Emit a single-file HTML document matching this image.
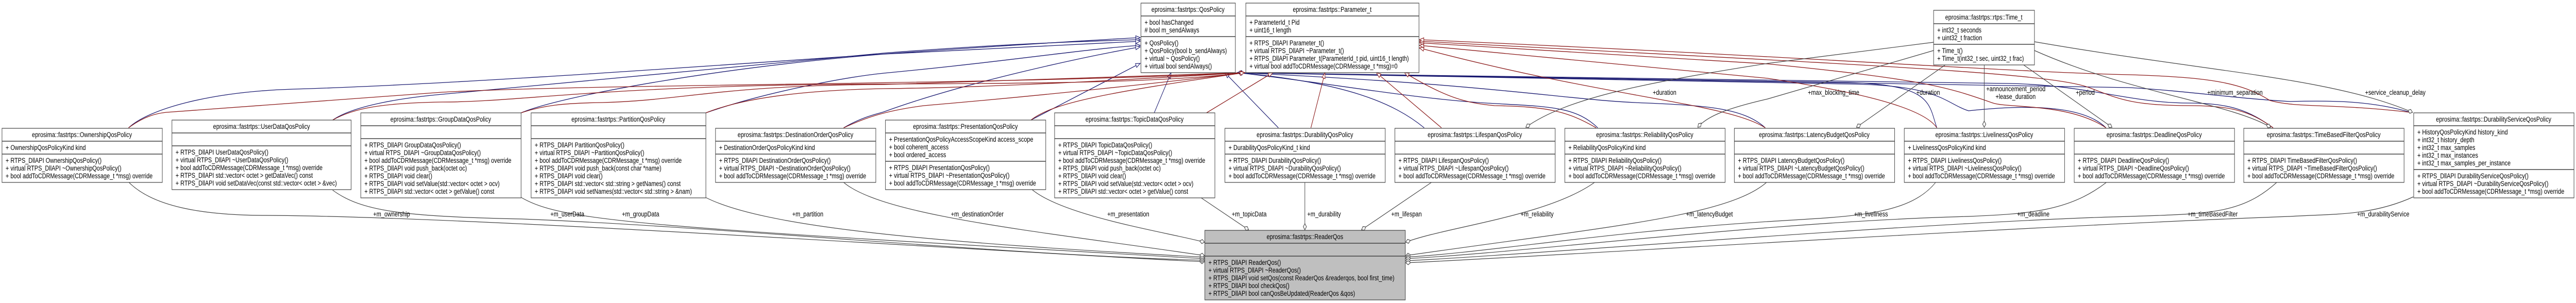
<!DOCTYPE html>
<html><head><meta charset="utf-8"><style>
html,body{margin:0;padding:0;background:#fff;overflow:hidden;width:100vw;height:100vh;}
svg{display:block;width:100vw;height:100vh;}
text{font-family:"Liberation Sans",sans-serif;font-size:14px;fill:#000;}
.t{text-anchor:middle;}
.b{fill:#fff;stroke:#404040;stroke-width:1.2;}
.g{fill:#bfbfbf;stroke:#404040;stroke-width:1.2;}
.s{stroke:#404040;stroke-width:1.6;}
.bl{fill:none;stroke:#191970;stroke-width:1.3;marker-end:url(#tb);}
.rd{fill:none;stroke:#8b1a1a;stroke-width:1.3;marker-end:url(#tr);}
.gy{fill:none;stroke:#404040;stroke-width:1.2;marker-end:url(#dm);}
</style></head><body>
<svg viewBox="0 0 6412 588" preserveAspectRatio="none" xmlns="http://www.w3.org/2000/svg">
<defs>
<marker id="tb" markerUnits="userSpaceOnUse" markerWidth="14" markerHeight="10" refX="11" refY="4" orient="auto" overflow="visible"><path d="M0,0 L11,4 L0,8 Z" fill="#fff" stroke="#191970" stroke-width="1.2"/></marker>
<marker id="tr" markerUnits="userSpaceOnUse" markerWidth="14" markerHeight="10" refX="11" refY="4" orient="auto" overflow="visible"><path d="M0,0 L11,4 L0,8 Z" fill="#fff" stroke="#8b1a1a" stroke-width="1.2"/></marker>
<marker id="dm" markerUnits="userSpaceOnUse" markerWidth="14" markerHeight="10" refX="12" refY="4" orient="auto" overflow="visible"><path d="M0,4 L6,0 L12,4 L6,8 Z" fill="#fff" stroke="#404040" stroke-width="1.2"/></marker>
</defs>

<path class="bl" d="M320,248 C370,212 520,178 730,173 C1300,160 2300,95 2838,73"/>
<path class="bl" d="M828,233 C880,205 1000,190 1100,183 L2200,103 C2500,85 2700,80 2838,77"/>
<path class="bl" d="M1297,219 C1400,185 1800,130 2200,105 L2838,80"/>
<path class="bl" d="M1757,219 C1900,180 2100,150 2200,142 C2500,120 2700,95 2838,88"/>
<path class="bl" d="M2100,248 C2150,225 2190,220 2200,217 C2400,160 2700,110 2838,91"/>
<path class="bl" d="M2566,233 L2838,123"/>
<path class="bl" d="M2873,219 L2915,141"/>
<path class="bl" d="M3182,248 L3049,141"/>
<path class="bl" d="M3545,248 C3470,200 3350,160 3080,141"/>
<path class="bl" d="M3977,248 C3920,205 3850,207 3700,200 C3500,190 3300,160 3080,141"/>
<path class="bl" d="M4394,248 C4340,210 4250,205 4100,200 C3900,195 3750,165 3080,141"/>
<path class="bl" d="M4821,248 C4800,200 4810,165 4600,160 L3080,141"/>
<path class="bl" d="M5242,248 C5180,200 5020,205 4900,215 C4840,200 4830,165 4600,163 L3080,141"/>
<path class="bl" d="M5658,248 C5600,215 5550,200 5450,200 C5300,200 5200,165 5000,162 L3080,141"/>
<path class="bl" d="M6000,218 C5900,195 5800,195 5700,197 C5550,190 5450,177 5300,170 L3080,141"/>

<path class="rd" d="M320,248 C360,225 390,220 414,218 L1100,179 C1500,162 2500,165 3098,141"/>
<path class="rd" d="M828,233 C880,210 950,200 1100,198 C1300,198 1500,165 2200,163 C2600,162 2900,160 3098,141"/>
<path class="rd" d="M1297,219 C1350,205 1400,200 1500,199 C1700,195 1800,165 2200,164 L3098,141"/>
<path class="rd" d="M1757,219 C1850,190 2000,175 2200,172 C2500,170 2900,150 3098,141"/>
<path class="rd" d="M2100,248 C2150,230 2200,215 2300,205 C2600,185 2900,160 3098,141"/>
<path class="rd" d="M2566,233 C2620,200 2750,180 3098,141"/>
<path class="rd" d="M3003,219 L3168,141"/>
<path class="rd" d="M3263,248 L3298,141"/>
<path class="rd" d="M3588,248 L3426,141"/>
<path class="rd" d="M3973,248 C3900,215 3850,207 3720,205 C3650,200 3600,190 3496,141"/>
<path class="rd" d="M4394,248 C4300,200 4000,190 3533,93"/>
<path class="rd" d="M4821,248 C4780,200 4550,170 4400,152 L3533,88"/>
<path class="rd" d="M5242,248 C5150,200 5000,210 4961,200 C4850,170 4800,155 4400,124 L3533,83"/>
<path class="rd" d="M5658,248 C5600,215 5550,205 5450,205 C5300,205 5270,190 5200,170 C5100,140 4600,125 3533,80"/>
<path class="rd" d="M6000,218 C5800,200 5720,210 5650,195 C5580,160 5500,150 5300,145 C5000,140 4500,110 3533,77"/>

<path class="gy" d="M4813,82 L4400,123 C4100,160 3900,190 3798,247"/>
<path class="gy" d="M4813,98 L4400,192 C4300,210 4250,225 4226,247"/>
<path class="gy" d="M4842,126 L4621,247"/>
<path class="gy" d="M4939,126 L4939,247"/>
<path class="gy" d="M5037,126 L5257,247"/>
<path class="gy" d="M5064,98 C5300,180 5550,200 5652,247"/>
<path class="gy" d="M5064,81 C5500,140 5800,150 6005,218"/>

<path class="gy" d="M321,354 C380,400 500,418 663,418 C1200,420 2500,490 2998,508"/>
<path class="gy" d="M828,369 C900,410 1000,420 1300,425 C1800,440 2500,495 2998,505"/>
<path class="gy" d="M1297,383 C1400,430 1600,440 2998,502"/>
<path class="gy" d="M1756,383 C1900,440 2300,470 2998,499"/>
<path class="gy" d="M2100,354 C2200,420 2600,450 2998,496"/>
<path class="gy" d="M2569,368 C2650,420 2900,450 2998,470"/>
<path class="gy" d="M2988,383 L3108,446"/>
<path class="gy" d="M3248,354 L3248,446"/>
<path class="gy" d="M3563,354 L3389,446"/>
<path class="gy" d="M3969,354 C3850,420 3600,440 3499,470"/>
<path class="gy" d="M4397,354 C4300,420 4000,440 3499,496"/>
<path class="gy" d="M4818,354 C4750,420 4600,420 4400,430 C4000,450 3700,490 3499,499"/>
<path class="gy" d="M5243,354 C5150,410 5050,415 4900,420 C4400,430 3800,490 3499,502"/>
<path class="gy" d="M5667,354 C5580,415 5500,415 5300,420 C4800,430 3800,495 3499,506"/>
<path class="gy" d="M6007,382 C5900,420 5800,415 5700,420 C5000,440 3800,500 3499,510"/>

<text x="4114" y="184">+duration</text>
<text x="4500" y="184">+max_blocking_time</text>
<text x="4770" y="184">+duration</text>
<text x="4944" y="177">+announcement_period</text>
<text x="4967" y="192">+lease_duration</text>
<text x="5167" y="184">+period</text>
<text x="5494" y="184">+minimum_separation</text>
<text x="5887" y="184">+service_cleanup_delay</text>
<text x="929" y="420">+m_ownership</text>
<text x="1370" y="420">+m_userData</text>
<text x="1548" y="420">+m_groupData</text>
<text x="1972" y="420">+m_partition</text>
<text x="2367" y="420">+m_destinationOrder</text>
<text x="2756" y="420">+m_presentation</text>
<text x="3066" y="420">+m_topicData</text>
<text x="3254" y="420">+m_durability</text>
<text x="3463" y="420">+m_lifespan</text>
<text x="3785" y="420">+m_reliability</text>
<text x="4197" y="420">+m_latencyBudget</text>
<text x="4615" y="420">+m_liveliness</text>
<text x="5021" y="420">+m_deadline</text>
<text x="5445" y="420">+m_timeBasedFilter</text>
<text x="5867" y="420">+m_durabilityService</text>

<rect class="b" x="2840" y="6" width="235" height="135"/>
<line class="s" x1="2840" y1="31" x2="3075" y2="31"/><line class="s" x1="2840" y1="71" x2="3075" y2="71"/>
<text class="t" x="2957" y="23">eprosima::fastrtps::QosPolicy</text>
<text x="2849" y="48">+ bool hasChanged</text><text x="2849" y="63"># bool m_sendAlways</text>
<text x="2849" y="88">+ QosPolicy()</text><text x="2849" y="103">+ QosPolicy(bool b_sendAlways)</text><text x="2849" y="118">+ virtual ~ QosPolicy()</text><text x="2849" y="133">+ virtual bool sendAlways()</text>

<rect class="b" x="3101" y="6" width="431" height="135"/>
<line class="s" x1="3101" y1="31" x2="3532" y2="31"/><line class="s" x1="3101" y1="71" x2="3532" y2="71"/>
<text class="t" x="3316" y="23">eprosima::fastrtps::Parameter_t</text>
<text x="3110" y="48">+ ParameterId_t Pid</text><text x="3110" y="63">+ uint16_t length</text>
<text x="3110" y="88">+ RTPS_DllAPI Parameter_t()</text><text x="3110" y="103">+ virtual RTPS_DllAPI ~Parameter_t()</text><text x="3110" y="118">+ RTPS_DllAPI Parameter_t(ParameterId_t pid, uint16_t length)</text><text x="3110" y="133">+ virtual bool addToCDRMessage(CDRMessage_t *msg)=0</text>

<rect class="b" x="4813" y="20" width="251" height="106"/>
<line class="s" x1="4813" y1="46" x2="5064" y2="46"/><line class="s" x1="4813" y1="86" x2="5064" y2="86"/>
<text class="t" x="4938" y="38">eprosima::fastrtps::rtps::Time_t</text>
<text x="4822" y="63">+ int32_t seconds</text><text x="4822" y="78">+ uint32_t fraction</text>
<text x="4822" y="103">+ Time_t()</text><text x="4822" y="118">+ Time_t(int32_t sec, uint32_t frac)</text>

<rect class="b" x="5" y="249" width="399" height="105"/>
<line class="s" x1="5" y1="274" x2="404" y2="274"/><line class="s" x1="5" y1="299" x2="404" y2="299"/>
<text class="t" x="204" y="266">eprosima::fastrtps::OwnershipQosPolicy</text>
<text x="14" y="291">+ OwnershipQosPolicyKind kind</text>
<text x="14" y="316">+ RTPS_DllAPI OwnershipQosPolicy()</text><text x="14" y="331">+ virtual RTPS_DllAPI ~OwnershipQosPolicy()</text><text x="14" y="346">+ bool addToCDRMessage(CDRMessage_t *msg) override</text>

<rect class="b" x="428" y="233" width="446" height="135"/>
<line class="s" x1="428" y1="258" x2="874" y2="258"/><line class="s" x1="428" y1="283" x2="874" y2="283"/>
<text class="t" x="651" y="250">eprosima::fastrtps::UserDataQosPolicy</text>
<text x="437" y="300">+ RTPS_DllAPI UserDataQosPolicy()</text><text x="437" y="315">+ virtual RTPS_DllAPI ~UserDataQosPolicy()</text><text x="437" y="330">+ bool addToCDRMessage(CDRMessage_t *msg) override</text><text x="437" y="345">+ RTPS_DllAPI std::vector&lt; octet &gt; getDataVec() const</text><text x="437" y="360">+ RTPS_DllAPI void setDataVec(const std::vector&lt; octet &gt; &amp;vec)</text>

<rect class="b" x="898" y="219" width="399" height="165"/>
<line class="s" x1="898" y1="244" x2="1297" y2="244"/><line class="s" x1="898" y1="269" x2="1297" y2="269"/>
<text class="t" x="1097" y="236">eprosima::fastrtps::GroupDataQosPolicy</text>
<text x="907" y="286">+ RTPS_DllAPI GroupDataQosPolicy()</text><text x="907" y="301">+ virtual RTPS_DllAPI ~GroupDataQosPolicy()</text><text x="907" y="316">+ bool addToCDRMessage(CDRMessage_t *msg) override</text><text x="907" y="331">+ RTPS_DllAPI void push_back(octet oc)</text><text x="907" y="346">+ RTPS_DllAPI void clear()</text><text x="907" y="361">+ RTPS_DllAPI void setValue(std::vector&lt; octet &gt; ocv)</text><text x="907" y="376">+ RTPS_DllAPI std::vector&lt; octet &gt; getValue() const</text>

<rect class="b" x="1322" y="219" width="435" height="165"/>
<line class="s" x1="1322" y1="244" x2="1757" y2="244"/><line class="s" x1="1322" y1="269" x2="1757" y2="269"/>
<text class="t" x="1539" y="236">eprosima::fastrtps::PartitionQosPolicy</text>
<text x="1331" y="286">+ RTPS_DllAPI PartitionQosPolicy()</text><text x="1331" y="301">+ virtual RTPS_DllAPI ~PartitionQosPolicy()</text><text x="1331" y="316">+ bool addToCDRMessage(CDRMessage_t *msg) override</text><text x="1331" y="331">+ RTPS_DllAPI void push_back(const char *name)</text><text x="1331" y="346">+ RTPS_DllAPI void clear()</text><text x="1331" y="361">+ RTPS_DllAPI std::vector&lt; std::string &gt; getNames() const</text><text x="1331" y="376">+ RTPS_DllAPI void setNames(std::vector&lt; std::string &gt; &amp;nam)</text>

<rect class="b" x="1781" y="249" width="399" height="105"/>
<line class="s" x1="1781" y1="274" x2="2180" y2="274"/><line class="s" x1="1781" y1="299" x2="2180" y2="299"/>
<text class="t" x="1980" y="266">eprosima::fastrtps::DestinationOrderQosPolicy</text>
<text x="1790" y="291">+ DestinationOrderQosPolicyKind kind</text>
<text x="1790" y="316">+ RTPS_DllAPI DestinationOrderQosPolicy()</text><text x="1790" y="331">+ virtual RTPS_DllAPI ~DestinationOrderQosPolicy()</text><text x="1790" y="346">+ bool addToCDRMessage(CDRMessage_t *msg) override</text>

<rect class="b" x="2204" y="233" width="399" height="135"/>
<line class="s" x1="2204" y1="258" x2="2603" y2="258"/><line class="s" x1="2204" y1="313" x2="2603" y2="313"/>
<text class="t" x="2403" y="250">eprosima::fastrtps::PresentationQosPolicy</text>
<text x="2213" y="275">+ PresentationQosPolicyAccessScopeKind access_scope</text><text x="2213" y="290">+ bool coherent_access</text><text x="2213" y="305">+ bool ordered_access</text>
<text x="2213" y="330">+ RTPS_DllAPI PresentationQosPolicy()</text><text x="2213" y="345">+ virtual RTPS_DllAPI ~PresentationQosPolicy()</text><text x="2213" y="360">+ bool addToCDRMessage(CDRMessage_t *msg) override</text>

<rect class="b" x="2625" y="219" width="399" height="165"/>
<line class="s" x1="2625" y1="244" x2="3024" y2="244"/><line class="s" x1="2625" y1="269" x2="3024" y2="269"/>
<text class="t" x="2824" y="236">eprosima::fastrtps::TopicDataQosPolicy</text>
<text x="2634" y="286">+ RTPS_DllAPI TopicDataQosPolicy()</text><text x="2634" y="301">+ virtual RTPS_DllAPI ~TopicDataQosPolicy()</text><text x="2634" y="316">+ bool addToCDRMessage(CDRMessage_t *msg) override</text><text x="2634" y="331">+ RTPS_DllAPI void push_back(octet oc)</text><text x="2634" y="346">+ RTPS_DllAPI void clear()</text><text x="2634" y="361">+ RTPS_DllAPI void setValue(std::vector&lt; octet &gt; ocv)</text><text x="2634" y="376">+ RTPS_DllAPI std::vector&lt; octet &gt; getValue() const</text>

<rect class="b" x="3049" y="249" width="399" height="105"/>
<line class="s" x1="3049" y1="274" x2="3448" y2="274"/><line class="s" x1="3049" y1="299" x2="3448" y2="299"/>
<text class="t" x="3248" y="266">eprosima::fastrtps::DurabilityQosPolicy</text>
<text x="3058" y="291">+ DurabilityQosPolicyKind_t kind</text>
<text x="3058" y="316">+ RTPS_DllAPI DurabilityQosPolicy()</text><text x="3058" y="331">+ virtual RTPS_DllAPI ~DurabilityQosPolicy()</text><text x="3058" y="346">+ bool addToCDRMessage(CDRMessage_t *msg) override</text>

<rect class="b" x="3472" y="249" width="399" height="105"/>
<line class="s" x1="3472" y1="274" x2="3871" y2="274"/><line class="s" x1="3472" y1="299" x2="3871" y2="299"/>
<text class="t" x="3671" y="266">eprosima::fastrtps::LifespanQosPolicy</text>
<text x="3481" y="316">+ RTPS_DllAPI LifespanQosPolicy()</text><text x="3481" y="331">+ virtual RTPS_DllAPI ~LifespanQosPolicy()</text><text x="3481" y="346">+ bool addToCDRMessage(CDRMessage_t *msg) override</text>

<rect class="b" x="3895" y="249" width="399" height="105"/>
<line class="s" x1="3895" y1="274" x2="4294" y2="274"/><line class="s" x1="3895" y1="299" x2="4294" y2="299"/>
<text class="t" x="4094" y="266">eprosima::fastrtps::ReliabilityQosPolicy</text>
<text x="3904" y="291">+ ReliabilityQosPolicyKind kind</text>
<text x="3904" y="316">+ RTPS_DllAPI ReliabilityQosPolicy()</text><text x="3904" y="331">+ virtual RTPS_DllAPI ~ReliabilityQosPolicy()</text><text x="3904" y="346">+ bool addToCDRMessage(CDRMessage_t *msg) override</text>

<rect class="b" x="4317" y="249" width="399" height="105"/>
<line class="s" x1="4317" y1="274" x2="4716" y2="274"/><line class="s" x1="4317" y1="299" x2="4716" y2="299"/>
<text class="t" x="4516" y="266">eprosima::fastrtps::LatencyBudgetQosPolicy</text>
<text x="4326" y="316">+ RTPS_DllAPI LatencyBudgetQosPolicy()</text><text x="4326" y="331">+ virtual RTPS_DllAPI ~LatencyBudgetQosPolicy()</text><text x="4326" y="346">+ bool addToCDRMessage(CDRMessage_t *msg) override</text>

<rect class="b" x="4740" y="249" width="399" height="105"/>
<line class="s" x1="4740" y1="274" x2="5139" y2="274"/><line class="s" x1="4740" y1="299" x2="5139" y2="299"/>
<text class="t" x="4939" y="266">eprosima::fastrtps::LivelinessQosPolicy</text>
<text x="4749" y="291">+ LivelinessQosPolicyKind kind</text>
<text x="4749" y="316">+ RTPS_DllAPI LivelinessQosPolicy()</text><text x="4749" y="331">+ virtual RTPS_DllAPI ~LivelinessQosPolicy()</text><text x="4749" y="346">+ bool addToCDRMessage(CDRMessage_t *msg) override</text>

<rect class="b" x="5163" y="249" width="399" height="105"/>
<line class="s" x1="5163" y1="274" x2="5562" y2="274"/><line class="s" x1="5163" y1="299" x2="5562" y2="299"/>
<text class="t" x="5362" y="266">eprosima::fastrtps::DeadlineQosPolicy</text>
<text x="5172" y="316">+ RTPS_DllAPI DeadlineQosPolicy()</text><text x="5172" y="331">+ virtual RTPS_DllAPI ~DeadlineQosPolicy()</text><text x="5172" y="346">+ bool addToCDRMessage(CDRMessage_t *msg) override</text>

<rect class="b" x="5585" y="249" width="399" height="105"/>
<line class="s" x1="5585" y1="274" x2="5984" y2="274"/><line class="s" x1="5585" y1="299" x2="5984" y2="299"/>
<text class="t" x="5784" y="266">eprosima::fastrtps::TimeBasedFilterQosPolicy</text>
<text x="5594" y="316">+ RTPS_DllAPI TimeBasedFilterQosPolicy()</text><text x="5594" y="331">+ virtual RTPS_DllAPI ~TimeBasedFilterQosPolicy()</text><text x="5594" y="346">+ bool addToCDRMessage(CDRMessage_t *msg) override</text>

<rect class="b" x="6008" y="219" width="399" height="165"/>
<line class="s" x1="6008" y1="244" x2="6407" y2="244"/><line class="s" x1="6008" y1="329" x2="6407" y2="329"/>
<text class="t" x="6207" y="236">eprosima::fastrtps::DurabilityServiceQosPolicy</text>
<text x="6017" y="261">+ HistoryQosPolicyKind history_kind</text><text x="6017" y="276">+ int32_t history_depth</text><text x="6017" y="291">+ int32_t max_samples</text><text x="6017" y="306">+ int32_t max_instances</text><text x="6017" y="321">+ int32_t max_samples_per_instance</text>
<text x="6017" y="346">+ RTPS_DllAPI DurabilityServiceQosPolicy()</text><text x="6017" y="361">+ virtual RTPS_DllAPI ~DurabilityServiceQosPolicy()</text><text x="6017" y="376">+ bool addToCDRMessage(CDRMessage_t *msg) override</text>

<rect class="g" x="2999" y="447" width="499" height="135"/>
<line class="s" x1="2999" y1="472" x2="3498" y2="472"/><line class="s" x1="2999" y1="497" x2="3498" y2="497"/>
<text class="t" x="3248" y="464">eprosima::fastrtps::ReaderQos</text>
<text x="3008" y="514">+ RTPS_DllAPI ReaderQos()</text><text x="3008" y="529">+ virtual RTPS_DllAPI ~ReaderQos()</text><text x="3008" y="544">+ RTPS_DllAPI void setQos(const ReaderQos &amp;readerqos, bool first_time)</text><text x="3008" y="559">+ RTPS_DllAPI bool checkQos()</text><text x="3008" y="574">+ RTPS_DllAPI bool canQosBeUpdated(ReaderQos &amp;qos)</text>
</svg>
</body></html>
